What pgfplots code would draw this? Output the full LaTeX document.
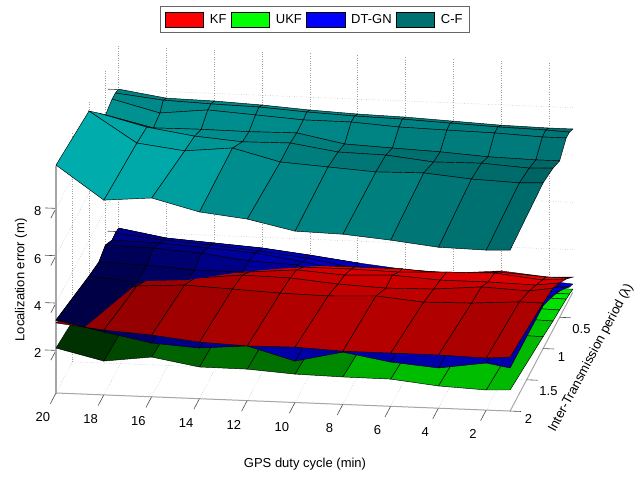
\documentclass[border=0pt]{standalone}
\usepackage{pgfplots}
\pgfplotsset{compat=1.18}
\usepackage{fontspec}
\setmainfont{Liberation Sans}
\pgfplotsset{
 base/.style={
  anchor=origin, at={(572.8pt,183.7pt)},
  x={(-23.9pt,0.95pt)}, y={(-33pt,-62.5pt)}, z={(0pt,23.67pt)},
  xmin=1,xmax=20,ymin=0.1,ymax=2,zmin=0.2,zmax=9.9,
  clip=false,
  point meta min=0, point meta max=1,
 },
 sf/.style={surf,shader=faceted,faceted color=black,line width=0.45pt,mesh/rows=7,mesh/cols=11,point meta=explicit},
 kfmap/.style={colormap={kf}{rgb=(0,0,0) rgb=(1,0,0)}},
 ukfmap/.style={colormap={ukf}{rgb=(0,0,0) rgb=(0,1,0)}},
 dtmap/.style={colormap={dt}{rgb=(0,0,0) rgb=(0,0,1)}},
 cfmap/.style={colormap={cf}{rgb=(0,0,0) rgb=(0,1,1)}},
 box/.style={legend image code/.code={\draw[fill=#1,draw=black,line width=0.5pt] (0pt,-7.5pt) rectangle (38.5pt,7.5pt);}},
 tk/.style={gray!60!black,line width=0.6pt,forget plot},
}
\definecolor{teal2}{RGB}{0,112,112}
\begin{document}
\begin{tikzpicture}[x=1pt,y=1pt]
\path[use as bounding box] (0,0) rectangle (644,476);
\begin{axis}[base,
  grid=major, grid style={dotted,gray!75,line width=0.5pt},
  axis line style={draw=none},
  xtick={2,4,...,20}, ytick={0.5,1,1.5,2}, ztick={2,4,6,8},
  tick align=outside, xtick pos=right, ytick pos=right, ztick pos=right,
  xticklabel pos=left, yticklabel pos=left, zticklabel pos=left,
  major tick length=11pt, tick style={gray!60!black,line width=0.6pt},
  xtick style={draw=none}, ytick style={draw=none},
  tick label style={font=\fontsize{13}{15}\selectfont},
  xticklabel style={xshift=-6pt,yshift=-6pt},
  zticklabel style={xshift=-6pt,yshift=11pt},
  /pgf/number format/assume math mode=true,
  legend columns=4,
  legend style={at={(rel axis cs:0,0,0)},anchor=center,xshift=-258pt,yshift=273pt,draw=gray!80!black,line width=0.6pt,font=\fontsize{13}{15}\selectfont,
    inner xsep=5pt,inner ysep=5pt,
    /tikz/every even column/.append style={column sep=2.3pt},
    /tikz/every odd column/.append style={column sep=4pt}},
]
\addlegendimage{box=red}\addlegendentry{KF}
\addlegendimage{box=green}\addlegendentry{UKF}
\addlegendimage{box=blue}\addlegendentry{DT-GN}
\addlegendimage{box=teal2}\addlegendentry{C-F}

\addplot3[gray!70,line width=1pt,forget plot] coordinates {(20,2,0.2)(1,2,0.2)(1,0.1,0.2)};
\addplot3[gray!70,line width=1.2pt,forget plot] coordinates {(20,2,0.2)(20,2,9.8)};
% tick marks of the x and y axes
\addplot3[tk] coordinates {(20,2,0.2)(20,2.17,0.2)};
\addplot3[tk] coordinates {(18,2,0.2)(18,2.17,0.2)};
\addplot3[tk] coordinates {(16,2,0.2)(16,2.17,0.2)};
\addplot3[tk] coordinates {(14,2,0.2)(14,2.17,0.2)};
\addplot3[tk] coordinates {(12,2,0.2)(12,2.17,0.2)};
\addplot3[tk] coordinates {(10,2,0.2)(10,2.17,0.2)};
\addplot3[tk] coordinates {(8,2,0.2)(8,2.17,0.2)};
\addplot3[tk] coordinates {(6,2,0.2)(6,2.17,0.2)};
\addplot3[tk] coordinates {(4,2,0.2)(4,2.17,0.2)};
\addplot3[tk] coordinates {(2,2,0.2)(2,2.17,0.2)};
\addplot3[tk] coordinates {(1,0.5,0.2)(0.54,0.5,0.2)};
\addplot3[tk] coordinates {(1,1,0.2)(0.54,1,0.2)};
\addplot3[tk] coordinates {(1,1.5,0.2)(0.54,1.5,0.2)};
\addplot3[tk] coordinates {(1,2,0.2)(0.54,2,0.2)};

% UKF
\addplot3[sf,ukfmap,forget plot] coordinates {
(20,0.1,1.1)[.5] (18,0.1,.9)[.5] (16,0.1,.9)[.6] (14,0.1,.75)[.6] (12,0.1,.7)[.6] (10,0.1,.6)[.7] (8,0.1,.55)[.8] (6,0.1,.5)[.85] (4,0.1,.42)[.9] (2,0.1,.35)[.9] (1,0.1,.33)[.9]
(20,0.2,1.2)[.5] (18,0.2,1.0)[.5] (16,0.2,1.0)[.6] (14,0.2,.85)[.6] (12,0.2,.8)[.6] (10,0.2,.7)[.7] (8,0.2,.65)[.8] (6,0.2,.58)[.85] (4,0.2,.48)[.9] (2,0.2,.41)[.9] (1,0.2,.39)[.9]
(20,0.3,1.3)[.5] (18,0.3,1.05)[.5] (16,0.3,1.1)[.6] (14,0.3,.95)[.6] (12,0.3,.9)[.6] (10,0.3,.75)[.7] (8,0.3,.7)[.8] (6,0.3,.62)[.85] (4,0.3,.52)[.9] (2,0.3,.46)[.9] (1,0.3,.44)[.9]
(20,0.5,1.4)[.4] (18,0.5,1.15)[.4] (16,0.5,1.2)[.5] (14,0.5,1.05)[.5] (12,0.5,1.0)[.5] (10,0.5,.85)[.6] (8,0.5,.8)[.7] (6,0.5,.7)[.8] (4,0.5,.6)[.85] (2,0.5,.53)[.85] (1,0.5,.51)[.85]
(20,0.7,1.5)[.3] (18,0.7,1.25)[.3] (16,0.7,1.3)[.4] (14,0.7,1.15)[.45] (12,0.7,1.1)[.45] (10,0.7,.95)[.5] (8,0.7,.9)[.65] (6,0.7,.8)[.75] (4,0.7,.68)[.8] (2,0.7,.6)[.8] (1,0.7,.57)[.8]
(20,1,1.7)[.18] (18,1,1.4)[.2] (16,1,1.5)[.35] (14,1,1.3)[.43] (12,1,1.25)[.45] (10,1,1.1)[.42] (8,1,1.0)[.65] (6,1,.95)[.72] (4,1,.8)[.75] (2,1,.72)[.72] (1,1,.7)[.72]
(20,2,2.10)[.18] (18,2,1.63)[.2] (16,2,1.88)[.35] (14,2,1.54)[.43] (12,2,1.53)[.45] (10,2,1.40)[.42] (8,2,1.36)[.65] (6,2,1.35)[.72] (4,2,1.14)[.75] (2,2,1.05)[.72] (1,2,1.09)[.72]
};
% DT-GN
\addplot3[sf,dtmap,forget plot] coordinates {
(20,0.1,2.15)[.5] (18,0.1,1.81)[.6] (16,0.1,1.68)[.65] (14,0.1,1.55)[.7] (12,0.1,1.33)[.7] (10,0.1,1.08)[.75] (8,0.1,.88)[.8] (6,0.1,.81)[.8] (4,0.1,.77)[.85] (2,0.1,.63)[.85] (1,0.1,.55)[.85]
(20,0.2,2.20)[.5] (18,0.2,1.99)[.6] (16,0.2,1.86)[.65] (14,0.2,1.69)[.7] (12,0.2,1.47)[.7] (10,0.2,1.13)[.75] (8,0.2,.95)[.8] (6,0.2,.87)[.8] (4,0.2,.78)[.85] (2,0.2,.73)[.85] (1,0.2,.69)[.85]
(20,0.3,2.17)[.45] (18,0.3,2.13)[.5] (16,0.3,2.00)[.6] (14,0.3,1.87)[.65] (12,0.3,1.57)[.7] (10,0.3,1.22)[.75] (8,0.3,1.05)[.8] (6,0.3,.96)[.8] (4,0.3,.91)[.85] (2,0.3,.91)[.85] (1,0.3,.91)[.85]
(20,0.5,2.49)[.35] (18,0.5,2.44)[.38] (16,0.5,2.31)[.55] (14,0.5,2.06)[.6] (12,0.5,1.97)[.65] (10,0.5,1.41)[.7] (8,0.5,1.28)[.75] (6,0.5,1.24)[.75] (4,0.5,1.23)[.8] (2,0.5,1.23)[.8] (1,0.5,1.31)[.8]
(20,0.7,2.30)[.32] (18,0.7,2.25)[.34] (16,0.7,2.12)[.45] (14,0.7,2.12)[.5] (12,0.7,1.82)[.6] (10,0.7,1.43)[.65] (8,0.7,1.43)[.7] (6,0.7,1.47)[.7] (4,0.7,1.51)[.75] (2,0.7,1.54)[.75] (1,0.7,1.63)[.75]
(20,1,2.50)[.28] (18,1,2.33)[.3] (16,1,2.32)[.4] (14,1,2.23)[.5] (12,1,2.10)[.6] (10,1,1.68)[.65] (8,1,1.72)[.65] (6,1,1.75)[.65] (4,1,1.79)[.7] (2,1,1.91)[.7] (1,1,2.01)[.7]
(20,2,3.28)[.22] (18,2,2.86)[.3] (16,2,2.47)[.6] (14,2,2.34)[.6] (12,2,2.51)[.65] (10,2,1.95)[.65] (8,2,2.41)[.65] (6,2,2.07)[.65] (4,2,1.90)[.65] (2,2,2.19)[.65] (1,2,2.02)[.65]
};
% KF
\addplot3[sf,kfmap,forget plot] coordinates {
(20,0.1,.29)[.8] (18,0.1,.59)[.8] (16,0.1,.71)[.85] (14,0.1,.83)[.88] (12,0.1,.91)[.9] (10,0.1,.91)[.92] (8,0.1,.86)[.92] (6,0.1,.81)[.92] (4,0.1,.98)[.92] (2,0.1,.80)[.92] (1,0.1,.84)[.9]
(20,0.2,.43)[.8] (18,0.2,.81)[.8] (16,0.2,.97)[.85] (14,0.2,1.09)[.88] (12,0.2,1.17)[.9] (10,0.2,1.17)[.92] (8,0.2,1.17)[.92] (6,0.2,1.04)[.92] (4,0.2,1.20)[.92] (2,0.2,1.07)[.92] (1,0.2,1.07)[.9]
(20,0.3,.48)[.7] (18,0.3,.90)[.7] (16,0.3,1.07)[.75] (14,0.3,1.23)[.8] (12,0.3,1.35)[.85] (10,0.3,1.35)[.85] (8,0.3,1.30)[.86] (6,0.3,1.38)[.88] (4,0.3,1.42)[.9] (2,0.3,1.21)[.9] (1,0.3,1.29)[.88]
(20,0.5,.80)[.6] (18,0.5,1.22)[.6] (16,0.5,1.43)[.68] (14,0.5,1.59)[.75] (12,0.5,1.76)[.78] (10,0.5,1.62)[.8] (8,0.5,1.70)[.8] (6,0.5,1.57)[.82] (4,0.5,1.57)[.84] (2,0.5,1.52)[.8] (1,0.5,1.65)[.8]
(20,0.7,1.12)[.6] (18,0.7,1.62)[.6] (16,0.7,1.78)[.65] (14,0.7,1.99)[.72] (12,0.7,1.95)[.74] (10,0.7,1.77)[.78] (8,0.7,1.68)[.76] (6,0.7,1.72)[.74] (4,0.7,1.89)[.72] (2,0.7,1.80)[.72] (1,0.7,1.96)[.72]
(20,1,1.49)[.58] (18,1,2.16)[.58] (16,1,2.28)[.62] (14,1,2.19)[.66] (12,1,2.10)[.7] (10,1,2.06)[.72] (8,1,2.14)[.74] (6,1,1.96)[.72] (4,1,2.00)[.68] (2,1,2.13)[.68] (1,1,2.12)[.7]
(20,2,3.16)[.58] (18,2,2.94)[.55] (16,2,2.81)[.6] (14,2,2.59)[.62] (12,2,2.51)[.65] (10,2,2.54)[.67] (8,2,2.45)[.68] (6,2,2.45)[.68] (4,2,2.45)[.66] (2,2,2.40)[.65] (1,2,2.48)[.66]
};
% C-F
\addplot3[sf,cfmap,forget plot] coordinates {
(20,0.1,8.02)[.5] (18,0.1,7.72)[.5] (16,0.1,7.68)[.5] (14,0.1,7.59)[.5] (12,0.1,7.46)[.5] (10,0.1,7.37)[.48] (8,0.1,7.32)[.48] (6,0.1,7.23)[.46] (4,0.1,7.14)[.45] (2,0.1,7.10)[.42] (1,0.1,7.10)[.4]
(20,0.2,8.12)[.5] (18,0.2,7.90)[.5] (16,0.2,7.82)[.52] (14,0.2,7.77)[.52] (12,0.2,7.64)[.52] (10,0.2,7.55)[.5] (8,0.2,7.50)[.5] (6,0.2,7.41)[.48] (4,0.2,7.33)[.47] (2,0.2,7.28)[.45] (1,0.2,7.23)[.43]
(20,0.3,8.13)[.55] (18,0.3,7.62)[.55] (16,0.3,7.83)[.55] (14,0.3,7.70)[.55] (12,0.3,7.57)[.55] (10,0.3,7.56)[.52] (8,0.3,7.43)[.52] (6,0.3,7.38)[.5] (4,0.3,7.34)[.5] (2,0.3,7.25)[.48] (1,0.3,7.25)[.46]
(20,0.5,7.99)[.58] (18,0.5,7.52)[.58] (16,0.5,7.54)[.56] (14,0.5,7.52)[.54] (12,0.5,7.55)[.52] (10,0.5,7.16)[.5] (8,0.5,7.07)[.5] (6,0.5,6.99)[.45] (4,0.5,6.86)[.48] (2,0.5,6.81)[.44] (1,0.5,6.81)[.42]
(20,0.7,8.59)[.65] (18,0.7,8.08)[.6] (16,0.7,7.78)[.58] (14,0.7,7.62)[.5] (12,0.7,7.65)[.5] (10,0.7,7.35)[.42] (8,0.7,7.30)[.4] (6,0.7,7.09)[.38] (4,0.7,7.12)[.4] (2,0.7,6.99)[.38] (1,0.7,7.03)[.35]
(20,1,9.47)[.7] (18,1,8.20)[.64] (16,1,7.95)[.68] (14,1,8.15)[.56] (12,1,7.64)[.54] (10,1,7.51)[.5] (8,1,7.38)[.52] (6,1,7.42)[.47] (4,1,7.24)[.45] (2,1,7.16)[.43] (1,1,7.20)[.4]
(20,2,9.83)[.7] (18,2,8.43)[.64] (16,2,8.60)[.68] (14,2,8.09)[.56] (12,2,7.87)[.54] (10,2,7.44)[.5] (8,2,7.39)[.52] (6,2,7.22)[.47] (4,2,7.00)[.45] (2,2,6.96)[.43] (1,2,7.00)[.4]
};
\end{axis}
\begin{scope}
\clip (40,136) -- (83,147.5) -- (133,189) -- (145,195) -- (187,196) -- (240,204) -- (300,209) -- (360,212) -- (360,276) -- (40,276) -- cycle;
\begin{axis}[base,hide axis]
\addplot3[sf,dtmap,forget plot] coordinates {
(20,0.1,2.15)[.5] (18,0.1,1.81)[.6] (16,0.1,1.68)[.65] (14,0.1,1.55)[.7] (12,0.1,1.33)[.7] (10,0.1,1.08)[.75] (8,0.1,.88)[.8] (6,0.1,.81)[.8] (4,0.1,.77)[.85] (2,0.1,.63)[.85] (1,0.1,.55)[.85]
(20,0.2,2.20)[.5] (18,0.2,1.99)[.6] (16,0.2,1.86)[.65] (14,0.2,1.69)[.7] (12,0.2,1.47)[.7] (10,0.2,1.13)[.75] (8,0.2,.95)[.8] (6,0.2,.87)[.8] (4,0.2,.78)[.85] (2,0.2,.73)[.85] (1,0.2,.69)[.85]
(20,0.3,2.17)[.45] (18,0.3,2.13)[.5] (16,0.3,2.00)[.6] (14,0.3,1.87)[.65] (12,0.3,1.57)[.7] (10,0.3,1.22)[.75] (8,0.3,1.05)[.8] (6,0.3,.96)[.8] (4,0.3,.91)[.85] (2,0.3,.91)[.85] (1,0.3,.91)[.85]
(20,0.5,2.49)[.35] (18,0.5,2.44)[.38] (16,0.5,2.31)[.55] (14,0.5,2.06)[.6] (12,0.5,1.97)[.65] (10,0.5,1.41)[.7] (8,0.5,1.28)[.75] (6,0.5,1.24)[.75] (4,0.5,1.23)[.8] (2,0.5,1.23)[.8] (1,0.5,1.31)[.8]
(20,0.7,2.30)[.32] (18,0.7,2.25)[.34] (16,0.7,2.12)[.45] (14,0.7,2.12)[.5] (12,0.7,1.82)[.6] (10,0.7,1.43)[.65] (8,0.7,1.43)[.7] (6,0.7,1.47)[.7] (4,0.7,1.51)[.75] (2,0.7,1.54)[.75] (1,0.7,1.63)[.75]
(20,1,2.50)[.28] (18,1,2.33)[.3] (16,1,2.32)[.4] (14,1,2.23)[.5] (12,1,2.10)[.6] (10,1,1.68)[.65] (8,1,1.72)[.65] (6,1,1.75)[.65] (4,1,1.79)[.7] (2,1,1.91)[.7] (1,1,2.01)[.7]
(20,2,3.28)[.22] (18,2,2.86)[.3] (16,2,2.47)[.6] (14,2,2.34)[.6] (12,2,2.51)[.65] (10,2,1.95)[.65] (8,2,2.41)[.65] (6,2,2.07)[.65] (4,2,1.90)[.65] (2,2,2.19)[.65] (1,2,2.02)[.65]
};
\end{axis}
\end{scope}
\node[font=\fontsize{13}{15}\selectfont] at (305,12) {GPS duty cycle (min)};
\node[font=\fontsize{13}{15}\selectfont,rotate=90] at (21,196) {Localization error (m)};
\node[font=\fontsize{13}{15}\selectfont,rotate=62] at (591,118) {Inter-Transmission period (λ)};
\end{tikzpicture}
\end{document}
